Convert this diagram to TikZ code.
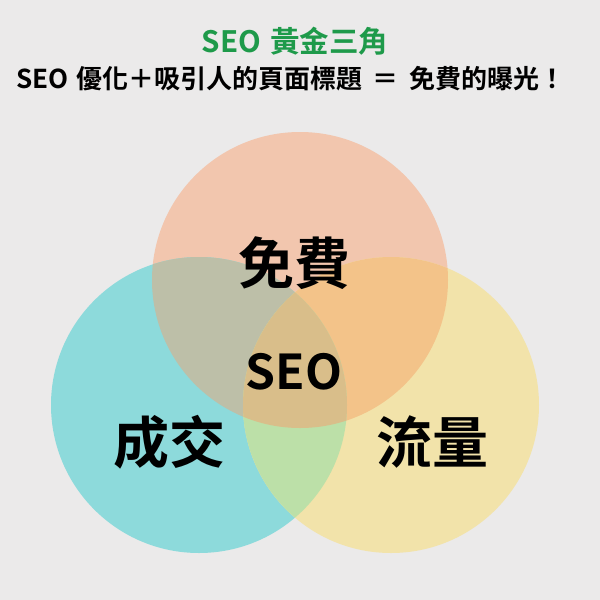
\documentclass[tikz,border=0pt]{standalone}
\usepackage{fontspec}
\setmainfont{Noto Sans CJK TC}[BoldFont={* Bold}]
\newfontfamily\cjkb{Noto Sans CJK TC Bold}
\definecolor{bgc}{HTML}{EBEAEA}
\definecolor{ctop}{HTML}{F2C6AE}
\definecolor{cleft}{HTML}{8DDADB}
\definecolor{cright}{HTML}{F2E3AA}
\definecolor{ctl}{HTML}{BDBFA8}
\definecolor{ctr}{HTML}{F3C389}
\definecolor{clr}{HTML}{BCE0A8}
\definecolor{cmid}{HTML}{D9BE8A}
\definecolor{titlegreen}{HTML}{1E9A4A}
\begin{document}
\begin{tikzpicture}[x=1pt,y=-1pt,
  lbl/.style={inner sep=0pt, font=\cjkb\fontsize{56}{60}\selectfont},
  head/.style={inner sep=0pt}]
\useasboundingbox (0,0) rectangle (600,600);
\fill[bgc] (0,0) rectangle (600,600);
\def\rr{148}
\coordinate (T) at (300,280);
\coordinate (L) at (199,405);
\coordinate (R) at (391,405);
\fill[ctop] (T) circle (\rr);
\fill[cleft] (L) circle (\rr);
\fill[cright] (R) circle (\rr);
\begin{scope}
  \clip (T) circle (\rr);
  \fill[ctl] (L) circle (\rr);
  \fill[ctr] (R) circle (\rr);
\end{scope}
\begin{scope}
  \clip (L) circle (\rr);
  \fill[clr] (R) circle (\rr);
  \clip (R) circle (\rr);
  \fill[cmid] (T) circle (\rr);
\end{scope}
\node[head, text=titlegreen, font=\cjkb\fontsize{29.5}{32}\selectfont] (title) at (295,41) {SEO\hspace{0.3em}黃金三角};
\node[head, font=\cjkb\fontsize{26}{30}\selectfont] (subtitle) at (291,79) {SEO\hspace{0.3em}優化＋吸引人的頁面標題\hspace{0.4em}＝\hspace{0.4em}免費的曝光！};
\node[lbl] (free) at (294,263) {免費};
\node[lbl] (deal) at (169,442) {成交};
\node[lbl] (traffic) at (432,442) {流量};
\node[inner sep=0pt, font=\cjkb\fontsize{48}{52}\selectfont] (seo) at (294,372) {SEO};
\end{tikzpicture}
\end{document}
